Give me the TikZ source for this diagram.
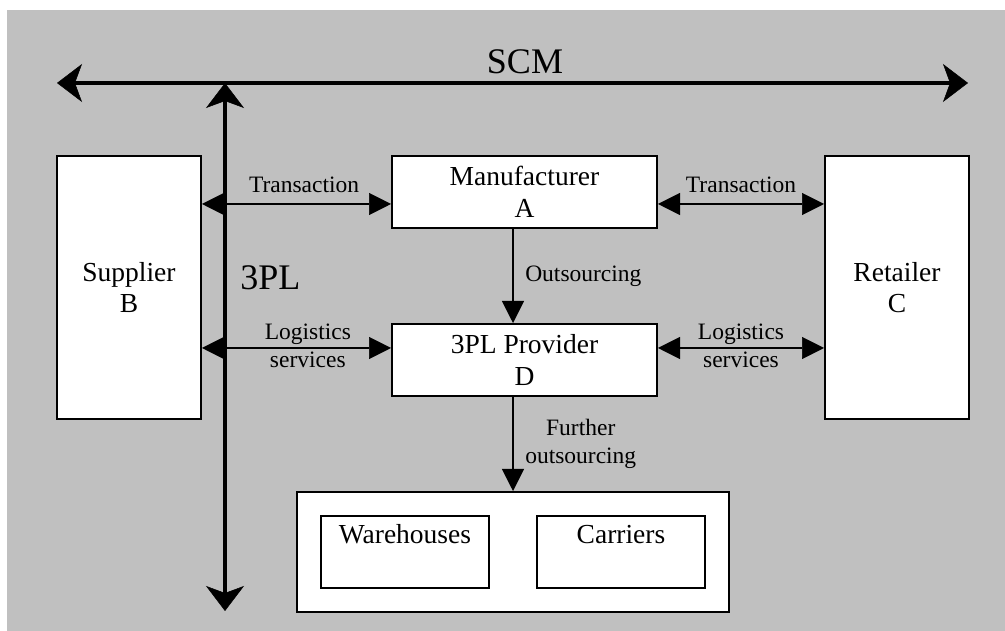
\documentclass[tikz,border=0pt]{standalone}
\usepackage{fontspec}
\setmainfont{Liberation Serif}
\usetikzlibrary{arrows.meta}
\usetikzlibrary{calc}
\definecolor{bggrey}{RGB}{192,192,192}

\begin{document}
\begin{tikzpicture}[x=1pt,y=1pt,>={Triangle[length=22pt,width=22pt,line width=0.5pt]},
        box/.style={rectangle,draw=black,fill=white,line width=2pt,align=center,inner sep=0pt,
          font=\fontsize{27.5}{31.7}\selectfont},
        inbox/.style={box,minimum width=168pt,minimum height=72pt,text height=19pt,text depth=35pt},
        lbl/.style={inner sep=0pt,align=center,font=\fontsize{23.5}{27.7}\selectfont},
        big/.style={inner sep=0pt,font=\fontsize{36}{43}\selectfont},
        flow/.style={line width=2.5pt},
        bus/.style={line width=4pt,
          {Stealth[length=25pt,width=38pt,inset=7pt,line width=0.5pt]}-{Stealth[length=25pt,width=38pt,inset=7pt,line width=0.5pt]}}]
        \useasboundingbox (0,0) rectangle (1005,631);
        \fill[bggrey] (7,0) rectangle (1005,621);
        \node[box,minimum width=265pt,minimum height=72pt]  (manu) at (524.5,439) {Manufacturer\\A};
        \node[box,minimum width=265pt,minimum height=72pt]  (prov) [below of=manu,node distance=168pt] {3PL Provider\\D};
        \node[box,minimum width=144pt,minimum height=263pt] (sup) at (129,343.5) {Supplier\\B};
        \node[box,minimum width=144pt,minimum height=263pt] (ret) [right of=sup,node distance=768pt] {Retailer\\C};
        \node[box,minimum width=432pt,minimum height=120pt] (work) at (513,79) {};
        \node[inbox] (ware) [left of=work,node distance=108pt] {Warehouses};
        \node[inbox] (carr) [right of=work,node distance=108pt] {Carriers};
        \node[big]  (scm) [anchor=base] at (525,557.7) {SCM};
        \node[big]  (tpl) [anchor=base] at (270.3,341.7) {3PL};
        \coordinate (scmL) at (57,548);
        \coordinate (scmR) at (968,548);
        \coordinate (tplT) at (225,548);
        \coordinate (tplB) at (225,20);
        \draw[bus] (scmL) -- (scmR);
        \draw[bus] (tplT) -- (tplB);
        \path[flow]
          ([yshift=-12pt]manu.west -| sup.east) edge[<->] node[lbl,pos=.54,above=10pt] {Transaction} ([yshift=-12pt]manu.west)
          ([yshift=-12pt]manu.east) edge[<->] node[lbl,above=10pt] {Transaction} ([yshift=-12pt]manu.east -| ret.west)
          ([yshift=12pt]prov.west -| sup.east) edge[<->] node[lbl,pos=.56,yshift=2pt] {Logistics\\services} ([yshift=12pt]prov.west)
          ([yshift=12pt]prov.east) edge[<->] node[lbl,yshift=2pt] {Logistics\\services} ([yshift=12pt]prov.east -| ret.west)
          (manu.south -| work.north) edge[->] node[lbl,right=11pt] {Outsourcing} (prov.north -| work.north)
          (prov.south -| work.north) edge[->] node[lbl,right=11pt] {Further\\outsourcing} (work.north)
          ;
      \end{tikzpicture}
\end{document}
